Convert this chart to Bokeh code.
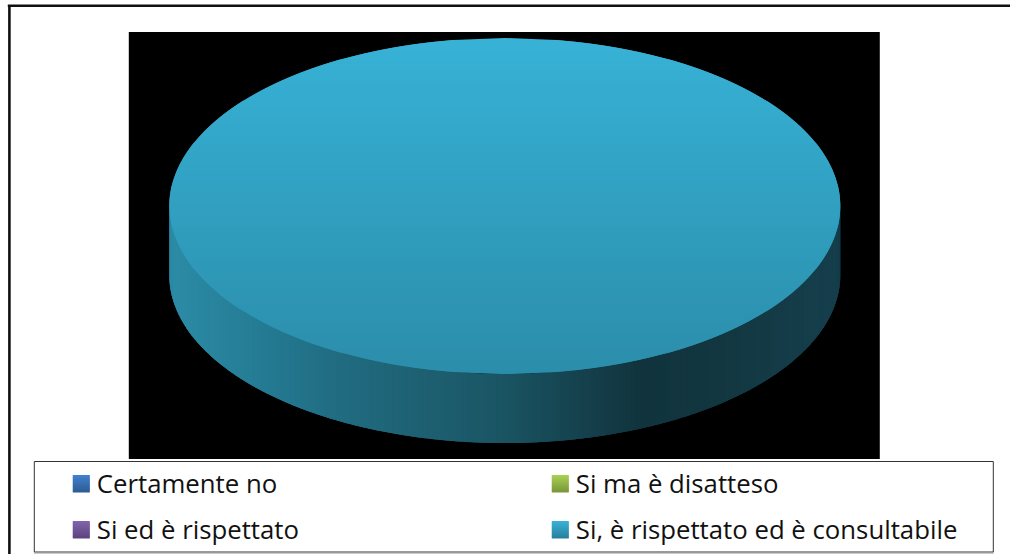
import numpy as np
from bokeh.plotting import figure
from bokeh.models import Range1d, ColumnDataSource
from bokeh.core.properties import value
from bokeh.embed import file_html
from bokeh.resources import INLINE

categories = ["Certamente no", "Si ma è disatteso", "Si ed è rispettato", "Si, è rispettato ed è consultabile"]
shares = [0, 0, 0, 100]
legend_top = ["#3F80CD", "#A7D052", "#8263AC", "#37B2D7"]
legend_bottom = ["#2E5D95", "#7C983B", "#5D447F", "#28809E"]

face_top = [(0.0, "#37B2D6"), (1.0, "#2B8DAA")]
side_stops = [(0.0, "#2D8CA7"), (0.16, "#237890"), (0.24, "#216D82"), (0.49, "#1A5564"),
              (0.64, "#143D48"), (0.70, "#11343E"), (0.79, "#12363F"), (1.0, "#163F4D")]

CX, CY, RX, RY, DEPTH = 505.0, 206.0, 335.5, 168.0, 69.0


def hex_rgb(c):
    return np.array([int(c[i:i + 2], 16) for i in (1, 3, 5)], float)


def ramp(stops, t):
    t = float(np.clip(t, 0, 1))
    for (a, ca), (b, cb) in zip(stops, stops[1:]):
        if t <= b:
            rgb = hex_rgb(ca) + (hex_rgb(cb) - hex_rgb(ca)) * (t - a) / (b - a)
            return "#%02x%02x%02x" % tuple(int(round(v)) for v in rgb)
    return stops[-1][1]


p = figure(width=1010, height=554, x_range=Range1d(0.7, 1010.7), y_range=Range1d(554.5, 0.5),
           output_backend="svg", toolbar_location=None, min_border=0, outline_line_color=None,
           background_fill_color="white", border_fill_color="white")
p.axis.visible = False
p.grid.visible = False

# page frame and black plot area
p.quad(left=[129], right=[880], top=[32], bottom=[459], fill_color="black", fill_alpha=1, line_color=None)
p.segment(x0=[8], x1=[1012], y0=[5.8], y1=[5.8], line_color="#111111", line_width=2.6)
p.segment(x0=[9.6], x1=[9.6], y0=[5], y1=[556], line_color="#111111", line_width=2.6)

# pie slices, from the shares
total = sum(shares)
start = -np.pi / 2
side, face = {"xs": [], "ys": [], "c": []}, {"xs": [], "ys": [], "c": []}
for share in shares:
    if share == 0:
        continue
    sweep = 2 * np.pi * share / total
    th = start + np.linspace(0, sweep, 2881)
    ox, oy = CX + RX * np.cos(th), CY + RY * np.sin(th)
    front = [i for i in range(len(th)) if np.sin(th[i]) > -1e-9]
    front.sort(key=lambda i: ox[i])
    for a in range(0, len(front) - 1, 4):
        i, j = front[a], front[min(a + 10, len(front) - 1)]
        side["xs"].append([ox[i], ox[j], ox[j], ox[i]])
        side["ys"].append([oy[i], oy[j], oy[j] + DEPTH, oy[i] + DEPTH])
        side["c"].append(ramp(side_stops, (ox[i] - (CX - RX)) / (2 * RX)))
    px, py = ox, oy
    if sweep < 2 * np.pi - 1e-6:
        px, py = np.append(ox, CX), np.append(oy, CY)
    rows = np.linspace(py.min(), py.max(), 170)
    spans = []
    for r in rows:
        nx, ny = np.roll(px, -1), np.roll(py, -1)
        hit = (py - r) * (ny - r) <= 0
        d = np.where(ny != py, ny - py, 1)
        xc = px[hit] + (r - py[hit]) / d[hit] * (nx[hit] - px[hit])
        spans.append((xc.min(), xc.max()))
    for k in range(len(rows) - 1):
        m = min(k + 2, len(rows) - 1)
        l0, r0 = spans[k]
        l1, r1 = spans[k + 1]
        l2, r2 = spans[m]
        face["xs"].append([l0, r0, r1, r2, l2, l1])
        face["ys"].append([rows[k], rows[k], rows[k + 1], rows[m], rows[m], rows[k + 1]])
        face["c"].append(ramp(face_top, (rows[k] - py.min()) / (py.max() - py.min())))
    start += sweep

s = ColumnDataSource(side)
p.patches("xs", "ys", source=s, fill_color="c", fill_alpha=1, line_color=None)
s = ColumnDataSource(face)
p.patches("xs", "ys", source=s, fill_color="c", fill_alpha=1, line_color=None)

# legend box
p.quad(left=[34.5], right=[993.5], top=[461.5], bottom=[552], fill_color="white", fill_alpha=1,
       line_color="#333333", line_width=1)
p.segment(x0=[34], x1=[994], y0=[553], y1=[553], line_color="#999999", line_width=1)

lx = [73, 552, 73, 552]
ly = [475, 475, 521, 521]
tx = [97, 576, 97, 576]
tc = [482.5, 482.5, 528.5, 528.5]
for c0, c1, x, y in zip(legend_top, legend_bottom, lx, ly):
    stops = [(0.0, c0), (1.0, c1)]
    for k in range(17):
        p.quad(left=[x], right=[x + 17], top=[y + k], bottom=[y + k + 1.5],
               fill_color=ramp(stops, k / 16), fill_alpha=1, line_color=None)
p.text(x=tx, y=tc, text=categories, text_font=value("Open Sans"), text_font_size="25.75px",
       text_color="#111111", text_baseline="middle", text_align="left")

open("out.html", "w").write(file_html(p, INLINE))
